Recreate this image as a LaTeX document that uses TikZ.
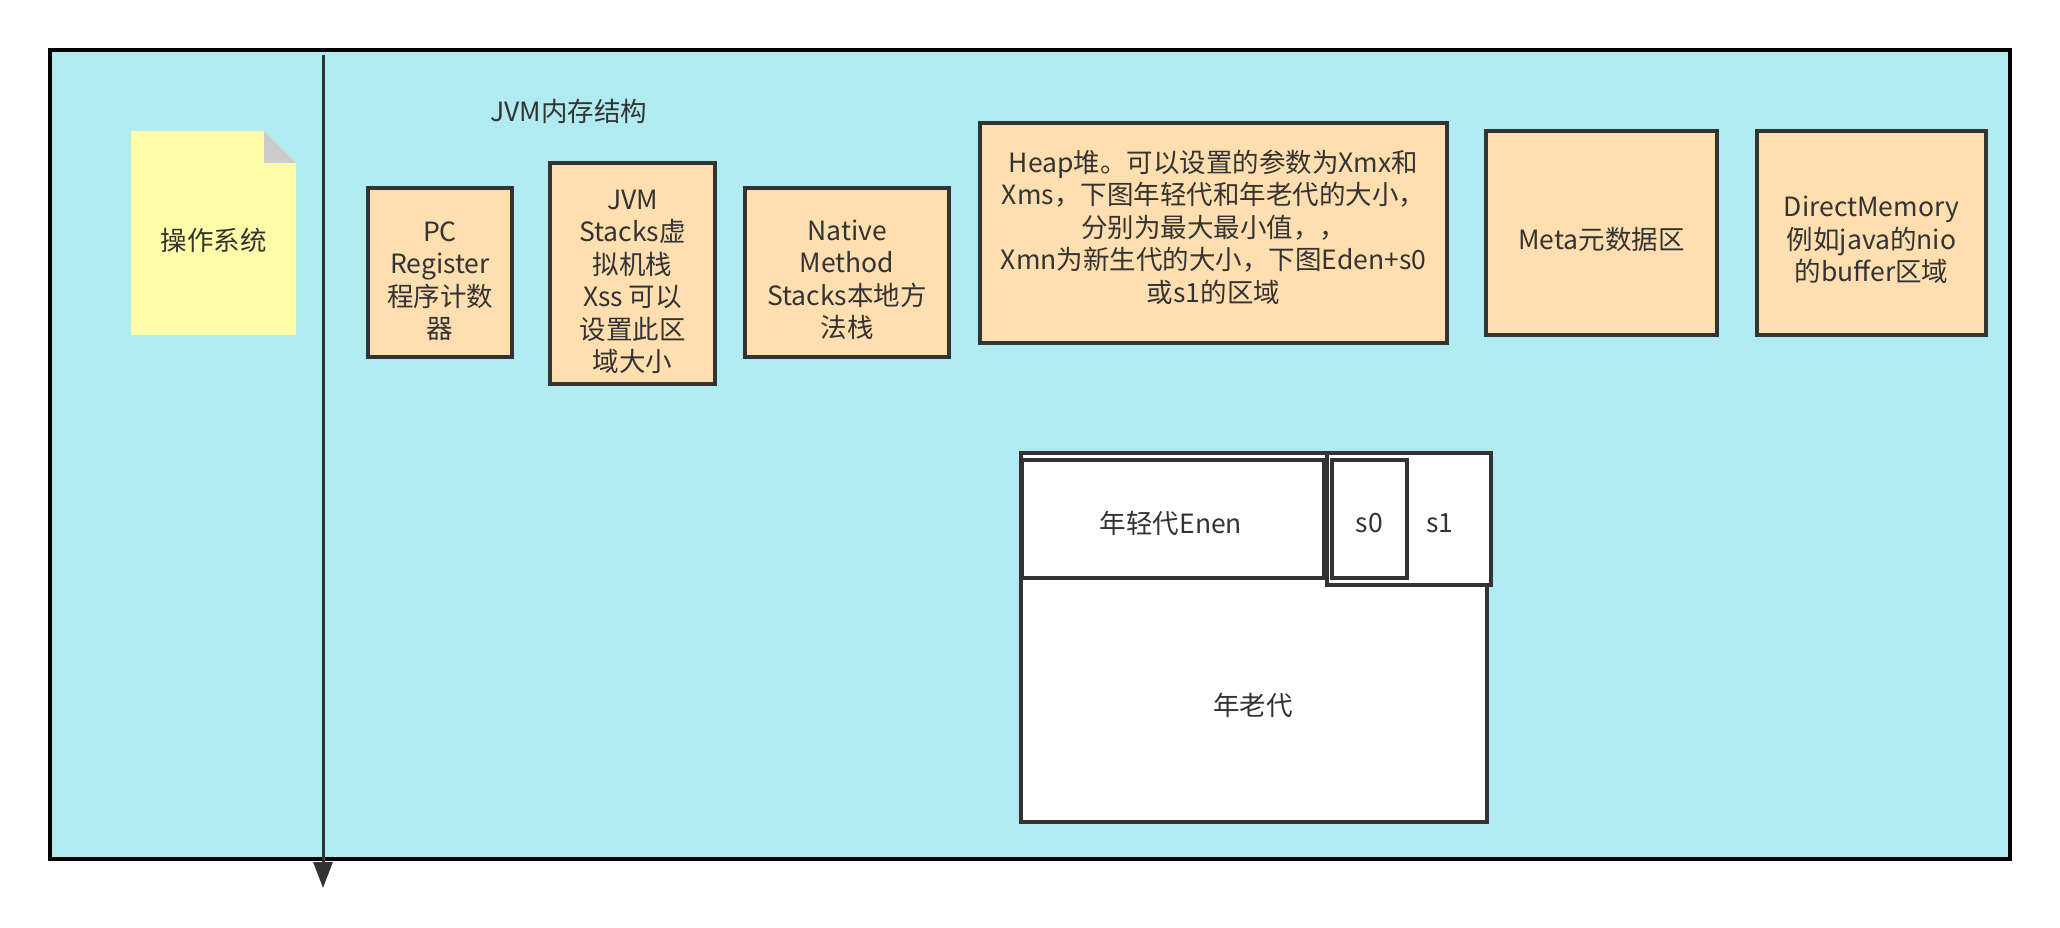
\documentclass[tikz,border=0pt]{standalone}
\usepackage{fontspec}
\setmainfont{Noto Sans CJK SC}
\usetikzlibrary{arrows.meta}
\definecolor{bgcyan}{HTML}{B1EBF2}
\definecolor{boxor}{HTML}{FFDFB0}
\definecolor{noteyel}{HTML}{FFFDA8}
\definecolor{foldgray}{HTML}{CCCCCC}
\definecolor{ink}{HTML}{333333}
\tikzset{
  txtfont/.style={font=\fontsize{26.5}{32.5}\selectfont},
  mbox/.style={draw=ink, line width=3.5pt, fill=boxor, inner sep=0pt},
  wbox/.style={draw=ink, line width=3.5pt, fill=white, inner sep=0pt},
  lbl/.style={text=ink, align=center, inner sep=0pt, txtfont},
}
\begin{document}
\begin{tikzpicture}[x=1pt,y=-1pt]
\useasboundingbox (0,0) rectangle (2060,928);
% outer container
\draw[black, line width=3.5pt, fill=bgcyan] (50,50) rectangle (2010,859);
% OS note
\fill[noteyel] (131,131) -- (264,131) -- (296,163) -- (296,335) -- (131,335) -- cycle;
\fill[foldgray] (264,131) -- (264,163) -- (296,163) -- cycle;
\node[lbl] (os) at (213.5,240) {操作系统};
% vertical arrow
\coordinate (vtop) at (323,55);
\coordinate (vbot) at (323,888);
\draw[ink, line width=3pt, -{Triangle[width=19pt,length=26pt]}] (vtop) -- (vbot);
% title
\node[lbl] (title) at (569,111) {JVM内存结构};
% boxes
\node[mbox, minimum width=144pt, minimum height=169pt] (pc) at (440,272.5) {};
\node[lbl] (pct) at (440,281) {PC\\Register\\程序计数\\器};
\node[mbox, minimum width=165pt, minimum height=221pt] (jvms) at (632.5,273.5) {};
\node[lbl] (jvmst) at (632.5,282) {JVM\\Stacks虚\\拟机栈\\Xss 可以\\设置此区\\域大小};
\node[mbox, minimum width=204pt, minimum height=169pt] (nms) at (847,272.5) {};
\node[lbl] (nmst) at (847,280) {Native\\Method\\Stacks本地方\\法栈};
\node[mbox, minimum width=467pt, minimum height=220pt] (heap) at (1213.5,233) {};
\node[lbl] (heapt) at (1213.5,227) {Heap堆。可以设置的参数为Xmx和\\Xms，下图年轻代和年老代的大小，\\分别为最大最小值，，\\Xmn为新生代的大小，下图Eden+s0\\或s1的区域};
\node[mbox, minimum width=231pt, minimum height=204pt] (meta) at (1601.5,233) {};
\node[lbl] (metat) at (1601.5,239) {Meta元数据区};
\node[mbox, minimum width=229pt, minimum height=204pt] (dm) at (1871.5,233) {};
\node[lbl] (dmt) at (1871.5,240) {DirectMemory\\例如java的nio\\的buffer区域};
% heap layout
\node[wbox, minimum width=466pt, minimum height=369pt] (old) at (1254,637.5) {};
\node[lbl] (oldt) at (1253,705) {年老代};
\node[wbox, minimum width=302pt, minimum height=118pt] (eden) at (1173,519) {};
\node[lbl] (edent) at (1171,523) {年轻代Enen};
\node[wbox, minimum width=164pt, minimum height=132pt] (surv) at (1409,519) {};
\node[wbox, minimum width=75pt, minimum height=118pt] (s0) at (1369.5,519) {};
\node[lbl] (s0t) at (1369.5,523) {s0};
\node[lbl] (s1) at (1440,523) {s1};
\end{tikzpicture}
\end{document}
